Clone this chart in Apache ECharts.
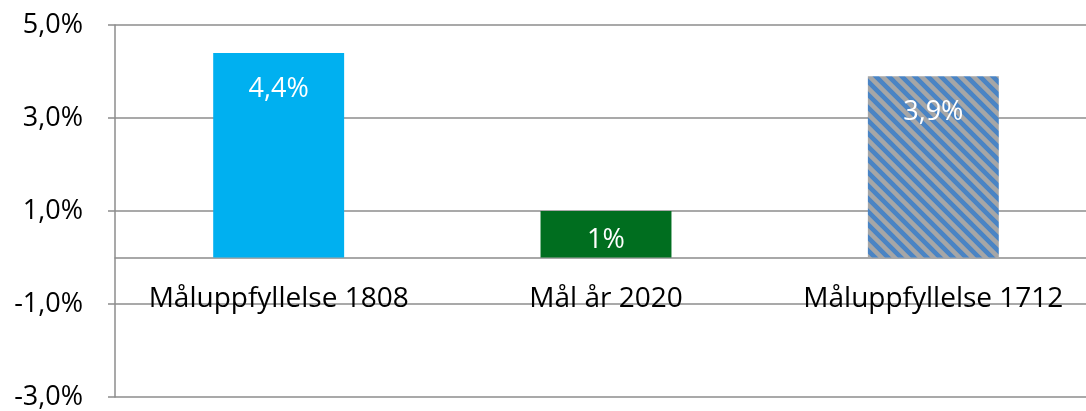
<!DOCTYPE html>
<html>
<head>
<meta charset="utf-8">
<script src="https://cdn.jsdelivr.net/npm/echarts@6/dist/echarts.min.js"></script>
<style>
  html, body { margin: 0; padding: 0; background: #fff; }
  #chart { width: 1086px; height: 411px; }
</style>
</head>
<body>
<div id="chart"></div>
<script>
var categories = [ 'Måluppfyllelse 1808', 'Mål år 2020', 'Måluppfyllelse 1712' ];
var values = [ 4.4, 1, 3.9 ];
var valueLabels = [ '4,4%', '1%', '3,9%' ];
var yTicks = [ -3, -1, 1, 3, 5 ];

// striped fill for the last bar
function stripes() {
	var s = 13;
	var c = document.createElement('canvas');
	c.width = s;
	c.height = s;
	var ctx = c.getContext('2d');
	ctx.fillStyle = '#4a84c4';
	ctx.fillRect(0, 0, s, s);
	ctx.strokeStyle = '#a6a6a6';
	ctx.lineWidth = 4.5;
	ctx.beginPath();
	ctx.moveTo(-s, -s); ctx.lineTo(2 * s, 2 * s);
	ctx.moveTo(-s, 0); ctx.lineTo(s, 2 * s);
	ctx.moveTo(0, -s); ctx.lineTo(2 * s, s);
	ctx.stroke();
	return c;
}

var colors = [ '#00b0f0', '#006e1f', { image: stripes(), repeat: 'repeat' } ];
var font = 'Open Sans';
var axisColor = '#8c8c8c';

var chart = echarts.init(document.getElementById('chart'));
var option = {
	animation : false,
	grid : {
		left : 115,
		right : -11,
		top : 25,
		bottom : 14,
		outerBoundsMode : 'none',
		containLabel : false
	},
	xAxis : [ {
		type : 'category',
		data : categories,
		offset : -139.5,
		axisLine : { onZero : false, lineStyle : { color : axisColor, width : 1.5 } },
		axisTick : { length : 10, lineStyle : { color : axisColor, width : 1.5 } },
		axisLabel : {
			interval : 0,
			hideOverlap : false,
			margin : 28,
			color : '#000',
			fontSize : 28,
			fontFamily : font
		}
	} ],
	yAxis : [ {
		type : 'value',
		min : yTicks[0],
		max : yTicks[yTicks.length - 1],
		interval : 2,
		axisLine : { show : true, lineStyle : { color : axisColor, width : 1.5 } },
		axisTick : { show : true, length : 7, lineStyle : { color : axisColor, width : 1.5 } },
		splitLine : { lineStyle : { color : axisColor, width : 1.5 } },
		axisLabel : {
			margin : 32,
			color : '#000',
			fontSize : 27,
			fontFamily : font,
			formatter : function(v) {
				return v.toFixed(1).replace('.', ',') + '%';
			}
		}
	} ],
	series : [ {
		type : 'bar',
		barWidth : '40%',
		data : values.map(function(v, i) {
			return {
				value : v,
				itemStyle : { color : colors[i] },
				label : { distance : i == 1 ? 16 : 23 }
			};
		}),
		label : {
			show : true,
			position : 'insideTop',
			color : '#fff',
			fontSize : 27,
			fontFamily : font,
			formatter : function(p) {
				return valueLabels[p.dataIndex];
			}
		}
	} ]
};
chart.setOption(option);
window.onresize = chart.resize;
</script>
</body>
</html>
